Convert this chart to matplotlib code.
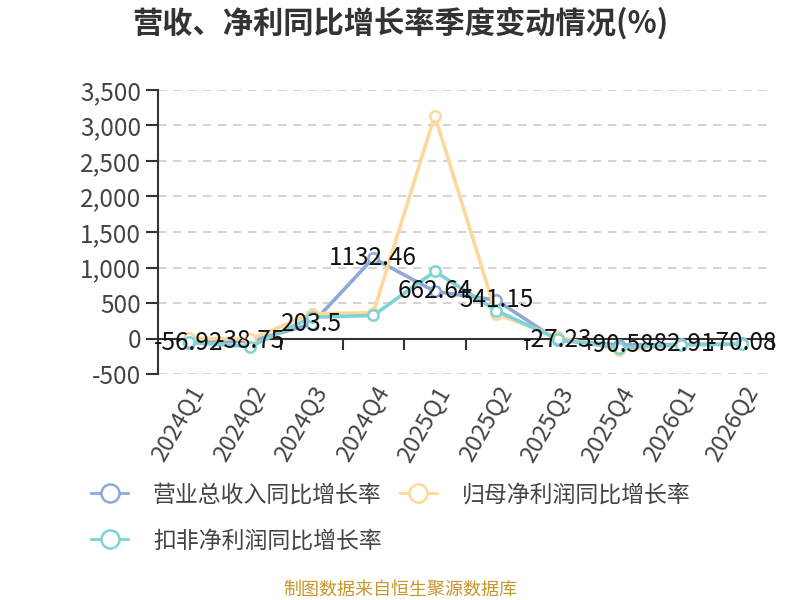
import matplotlib
matplotlib.use("Agg")
import matplotlib.pyplot as plt
import numpy as np
from matplotlib.ticker import FuncFormatter, FixedLocator
from matplotlib.lines import Line2D

plt.rcParams['font.family'] = ['Noto Sans CJK SC', 'DejaVu Sans']

categories = ['2024Q1', '2024Q2', '2024Q3', '2024Q4', '2025Q1', '2025Q2',
              '2025Q3', '2025Q4', '2026Q1', '2026Q2']
revenue_yoy = [-56.92, -38.75, 203.5, 1132.46, 662.64, 541.15, -27.23, -90.58, -82.91, -70.08]
parent_np_yoy = [5, -10, 350, 362, 3140, 348, 20, -160, -85, -75]
deducted_np_yoy = [-55, -115, 300, 324, 945, 394, -10, -130, -90, -80]
series_names = ['营业总收入同比增长率', '归母净利润同比增长率', '扣非净利润同比增长率']
colors = ['#8fa8da', '#fdd89b', '#80d3d5']
yticks = [-500, 0, 500, 1000, 1500, 2000, 2500, 3000, 3500]

fig = plt.figure(figsize=(8, 6), dpi=100)
ax = fig.add_axes([158/800, 1-374/600, (773-158)/800, 284/600])

x = np.arange(len(categories))
for vals, name, c in zip([revenue_yoy, parent_np_yoy, deducted_np_yoy], series_names, colors):
    ax.plot(x, vals, color=c, lw=2.6, marker='o', markersize=7.5,
            markerfacecolor='white', markeredgecolor=c, markeredgewidth=1.8,
            label=name, zorder=3)

for xi, v in zip(x, revenue_yoy):
    ax.text(xi, v, f'{v:g}', ha='center', va='center', fontsize=17.5,
            color='#111111', zorder=5)

ax.set_xlim(-0.5, len(categories) - 0.5)
ax.set_ylim(-500, 3500)
ax.set_yticks(yticks)
ax.yaxis.set_major_formatter(FuncFormatter(lambda v, p: f'{int(v):,}'))
ax.tick_params(axis='y', length=9, width=1.5, color='#333333', labelsize=17.5,
               labelcolor='#444444', pad=3)
ax.grid(axis='y', color='#cccccc', linestyle=(0, (5, 4)), lw=1.2)
ax.set_axisbelow(True)

for s in ['top', 'right']:
    ax.spines[s].set_visible(False)
ax.spines['left'].set_color('#333333')
ax.spines['left'].set_linewidth(1.5)
ax.spines['bottom'].set_position(('data', 0))
ax.spines['bottom'].set_color('#333333')
ax.spines['bottom'].set_linewidth(1.5)
ax.set_xticks(x)
ax.set_xticklabels([])
ax.tick_params(axis='x', which='major', length=0)
ax.xaxis.set_minor_locator(FixedLocator(np.arange(len(categories) + 1) - 0.5))
ax.tick_params(axis='x', which='minor', length=8, width=1.5, color='#333333', direction='out')

sec = ax.secondary_xaxis('bottom')
sec.set_xticks(x)
sec.set_xticklabels(categories, rotation=60, ha='right', rotation_mode='anchor')
sec.tick_params(axis='x', length=0, labelsize=17, labelcolor='#444444', pad=6)
sec.spines['bottom'].set_visible(False)

fig.text(0.5, 1-23/600, '营收、净利同比增长率季度变动情况(%)', ha='center', va='center',
         fontsize=21.8, fontweight='bold', color='#333333')

leg_handles = [Line2D([], [], color=c, lw=2, marker='o', markersize=13,
                      markerfacecolor='white', markeredgecolor=c, markeredgewidth=1.8)
               for c in colors]
order = [0, 2, 1]
fig.legend(handles=[leg_handles[i] for i in order], labels=[series_names[i] for i in order],
           loc='upper left', bbox_to_anchor=(82/800, 1-474/600),
           ncol=2, frameon=False, fontsize=16.5, handlelength=1.6, handletextpad=1.1,
           columnspacing=0.8, labelspacing=1.0, labelcolor='#444444', borderaxespad=0)

fig.text(0.5, 1-590/600, '制图数据来自恒生聚源数据库', ha='center', va='center',
         fontsize=13, color='#c8962a')

fig.savefig('out.png', dpi=100)
